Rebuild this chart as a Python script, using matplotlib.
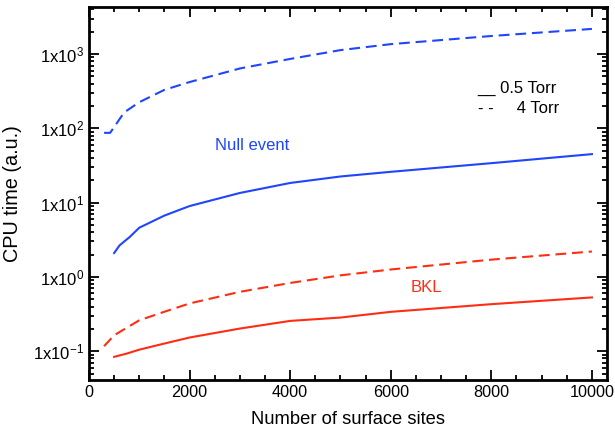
import matplotlib
matplotlib.use('Agg')
import matplotlib.pyplot as plt
from matplotlib.ticker import FixedLocator, MultipleLocator, LogLocator, NullFormatter, FuncFormatter
import numpy as np

plt.rcParams['font.family'] = ['Liberation Sans', 'DejaVu Sans']
plt.rcParams['mathtext.fontset'] = 'custom'
plt.rcParams['mathtext.rm'] = 'Liberation Sans'
plt.rcParams['mathtext.it'] = 'Liberation Sans:italic'
plt.rcParams['mathtext.bf'] = 'Liberation Sans:bold'

# Null event, 4 Torr (dashed)
null_4_x = [300, 420, 700, 1000, 1500, 2000, 3000, 4000, 5000, 6000, 8000, 10000]
null_4_y = [87, 87, 164, 225, 330, 420, 640, 860, 1130, 1360, 1750, 2180]
# Null event, 0.5 Torr (solid)
null_05_x = [500, 610, 810, 1000, 1500, 2000, 3000, 4000, 5000, 6000, 8000, 10000]
null_05_y = [2.1, 2.67, 3.45, 4.6, 6.7, 9.0, 13.5, 18.4, 22.5, 26, 34, 45]
# BKL, 4 Torr (dashed)
bkl_4_x = [300, 500, 1000, 1500, 2000, 3000, 4000, 5000, 6000, 8000, 10000]
bkl_4_y = [0.117, 0.164, 0.261, 0.34, 0.44, 0.63, 0.83, 1.05, 1.26, 1.71, 2.2]
# BKL, 0.5 Torr (solid)
bkl_05_x = [500, 750, 1000, 1500, 2000, 3000, 4000, 5000, 6000, 8000, 10000]
bkl_05_y = [0.084, 0.093, 0.105, 0.127, 0.153, 0.202, 0.256, 0.284, 0.339, 0.43, 0.53]

blue = '#1f45ff'
red = '#ff2d12'

fig = plt.figure(figsize=(6.15, 4.28), dpi=100)
ax = fig.add_axes([89 / 615, 48 / 428, 518 / 615, 373 / 428])

ax.plot(null_4_x, null_4_y, color=blue, lw=1.5, dashes=(5.2, 2.8))
ax.plot(null_05_x, null_05_y, color=blue, lw=1.5)
ax.plot(bkl_4_x, bkl_4_y, color=red, lw=1.5, dashes=(5.2, 2.8))
ax.plot(bkl_05_x, bkl_05_y, color=red, lw=1.5)

ax.set_yscale('log')
ax.set_xlim(0, 10300)
ax.set_ylim(0.041, 4300)

ax.xaxis.set_major_locator(MultipleLocator(2000))
ax.xaxis.set_minor_locator(MultipleLocator(500))
ax.yaxis.set_major_locator(FixedLocator([0.1, 1, 10, 100, 1000]))
ax.yaxis.set_minor_locator(LogLocator(base=10, subs=np.arange(2, 10)))
ax.yaxis.set_minor_formatter(NullFormatter())
ax.yaxis.set_major_formatter(FuncFormatter(lambda v, p: '1x10$^{%d}$' % round(np.log10(v))))

ax.tick_params(which='both', direction='in', top=True, right=True, width=1.3)
ax.tick_params(axis='y', labelsize=12)
ax.tick_params(axis='x', labelsize=11.7)
ax.tick_params(which='major', length=7)
ax.tick_params(which='minor', length=3.5)
for s in ax.spines.values():
    s.set_linewidth(2)

ax.set_xlabel('Number of surface sites', fontsize=13.2)
ax.set_ylabel('CPU time (a.u.)', fontsize=14.3)
ax.xaxis.set_label_coords(0.5, -0.083)
ax.yaxis.set_label_coords(-0.129, 0.5)

ax.text(2510, 59, 'Null event', color=blue, fontsize=12, va='center')
ax.text(6400, 0.726, 'BKL', color=red, fontsize=12, va='center')

ax.text(0.75, 0.783, '__ 0.5 Torr', transform=ax.transAxes, fontsize=12, va='center')
ax.text(0.75, 0.729, '- -     4 Torr', transform=ax.transAxes, fontsize=12, va='center')

fig.savefig('out.png', dpi=100)
